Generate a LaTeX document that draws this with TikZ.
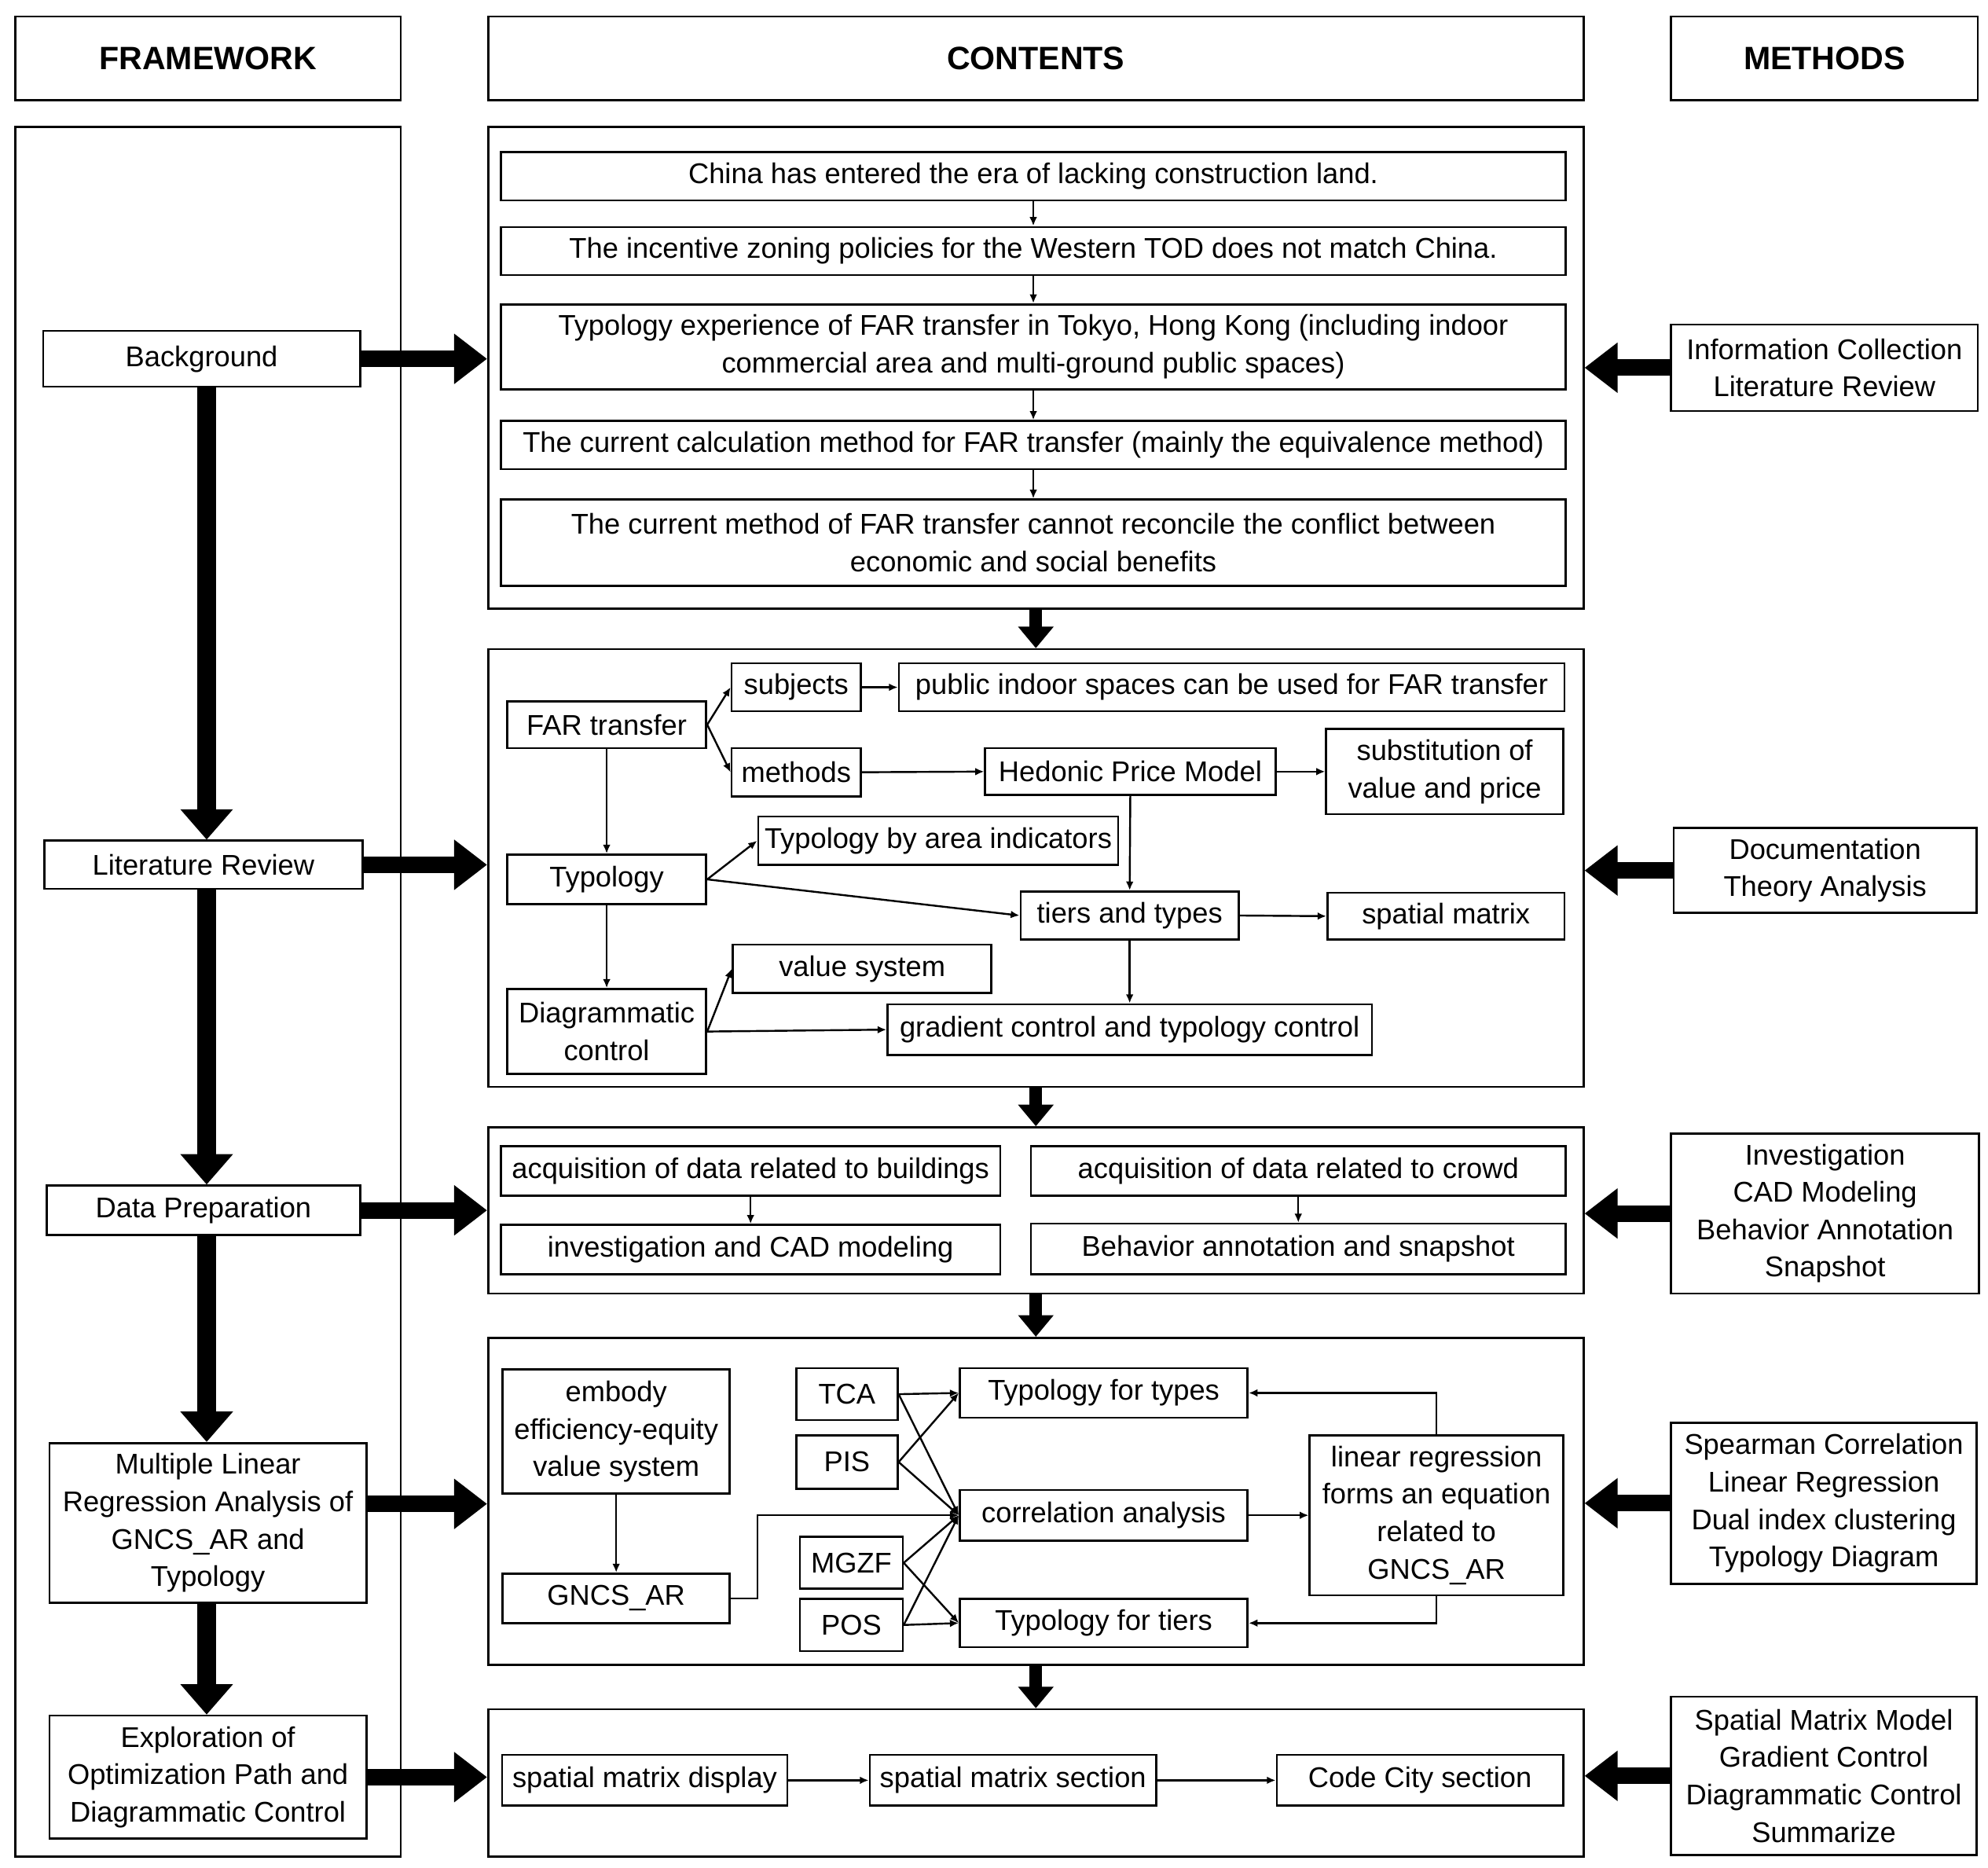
\documentclass[tikz,border=0pt]{standalone}
\usepackage{fontspec}
\setmainfont{Liberation Sans}
\usetikzlibrary{arrows.meta,calc}
\newcommand{\myfs}{\fontsize{22.5}{29.5}\selectfont}
\newcommand{\myhf}{\fontsize{25.5}{30}\selectfont\bfseries}
\begin{document}
\begin{tikzpicture}[x=1pt,y=-1pt,
  box/.style 2 args={draw=black, line width=1.6pt, minimum width=#1, minimum height=#2, inner sep=1pt, align=center, font=\myfs},
  hbox/.style 2 args={draw=black, line width=1.6pt, minimum width=#1, minimum height=#2, inner sep=1pt, align=center, font=\myhf},
  frame/.style 2 args={draw=black, line width=1.6pt, minimum width=#1, minimum height=#2, inner sep=0pt},
  bigv/.style={line width=15pt, -{Triangle[length=24pt,width=40pt]}},
  bigh/.style={line width=13pt, -{Triangle[length=26pt,width=38pt]}},
  midv/.style={line width=10pt, -{Triangle[length=17pt,width=27pt]}},
  conn/.style={line width=1.5pt, -{Latex[length=7pt,width=6pt]}}
]
\useasboundingbox (0,0) rectangle (1568,1472.6);

% headers
\node[hbox={304pt}{66pt}] (hf) at (164,46) {FRAMEWORK};
\node[hbox={864pt}{66pt}] (hc) at (817,46) {CONTENTS};
\node[hbox={242pt}{66pt}] (hm) at (1439,46) {METHODS};

% framework column
\node[frame={304pt}{1364pt}] (fw) at (164,782) {};
\node[box={250pt}{44pt}] (bg) at (159,283) {Background};
\node[box={251pt}{38pt}] (lr) at (160.5,682) {Literature Review};
\node[box={247pt}{39pt}] (dp) at (160.5,954.5) {Data Preparation};
\node[box={250pt}{126pt}] (ml) at (164,1201) {Multiple Linear\\Regression Analysis of\\GNCS\_AR and\\Typology};
\node[box={250pt}{97pt}] (ex) at (164,1401.5) {Exploration of\\Optimization Path and\\Diagrammatic Control};

% contents frames
\node[frame={864pt}{380pt}] (c1) at (817,290) {};
\node[frame={864pt}{345pt}] (c2) at (817,684.5) {};
\node[frame={864pt}{131pt}] (c3) at (817,954.5) {};
\node[frame={864pt}{258pt}] (c4) at (817,1184) {};
\node[frame={864pt}{116pt}] (c5) at (817,1406) {};

% methods
\node[box={242pt}{68pt}] (m1) at (1439,290) {Information Collection\\Literature Review};
\node[box={239pt}{67pt}] (m2) at (1439.5,686.5) {Documentation\\Theory Analysis};
\node[box={243pt}{126pt}] (m3) at (1439.5,957) {Investigation\\CAD Modeling\\Behavior Annotation\\Snapshot};
\node[box={241pt}{127pt}] (m4) at (1438.5,1185.5) {Spearman Correlation\\Linear Regression\\Dual index clustering\\Typology Diagram};
\node[box={241pt}{125pt}] (m5) at (1438.5,1400.5) {Spatial Matrix Model\\Gradient Control\\Diagrammatic Control\\Summarize};

% box 1
\node[box={840pt}{38pt}] (a1) at (815,139) {China has entered the era of lacking construction land.};
\node[box={840pt}{38pt}] (a2) at (815,198) {The incentive zoning policies for the Western TOD does not match China.};
\node[box={840pt}{67pt}] (a3) at (815,273.5) {Typology experience of FAR transfer in Tokyo, Hong Kong (including indoor\\commercial area and multi-ground public spaces)};
\node[box={840pt}{38pt}] (a4) at (815,351) {The current calculation method for FAR transfer (mainly the equivalence method)};
\node[box={840pt}{68pt}] (a5) at (815,428) {The current method of FAR transfer cannot reconcile the conflict between\\economic and social benefits};
\draw[conn] (a1.south) -- (a2.north);
\draw[conn] (a2.south) -- (a3.north);
\draw[conn] (a3.south) -- (a4.north);
\draw[conn] (a4.south) -- (a5.north);

% box 2
\node[box={157pt}{37pt}] (far) at (478.5,571.5) {FAR transfer};
\node[box={102pt}{38pt}] (sub) at (628,542) {subjects};
\node[box={525pt}{38pt}] (pub) at (971.5,542) {public indoor spaces can be used for FAR transfer};
\node[box={102pt}{38pt}] (met) at (628,609) {methods};
\node[box={229pt}{37pt}] (hed) at (891.5,608.5) {Hedonic Price Model};
\node[box={187pt}{67pt}] (sbs) at (1139.5,608.5) {substitution of\\value and price};
\node[box={284pt}{38pt}] (tba) at (740,663) {Typology by area indicators};
\node[box={157pt}{39pt}] (typ) at (478.5,693.5) {Typology};
\node[box={172pt}{38pt}] (tat) at (891,722) {tiers and types};
\node[box={187pt}{37pt}] (spm) at (1140.5,722.5) {spatial matrix};
\node[box={204pt}{38pt}] (vsy) at (680,764) {value system};
\node[box={157pt}{67pt}] (dgc) at (478.5,813.5) {Diagrammatic\\control};
\node[box={382pt}{40pt}] (gct) at (891,812) {gradient control and typology control};
\draw[conn] (far.east) -- (sub.west);
\draw[conn] (far.east) -- (met.west);
\draw[conn] (sub.east) -- (pub.west);
\draw[conn] (met.east) -- (hed.west);
\draw[conn] (hed.east) -- (sbs.west);
\draw[conn] (far.south) -- (typ.north);
\draw[conn] (hed.south) -- (tat.north);
\draw[conn] (typ.east) -- (tba.west);
\draw[conn] (typ.east) -- (tat.west);
\draw[conn] (tat.east) -- (spm.west);
\draw[conn] (typ.south) -- (dgc.north);
\draw[conn] (dgc.east) -- (vsy.west);
\draw[conn] (dgc.east) -- (gct.west);
\draw[conn] (tat.south) -- (gct.north);

% box 3
\node[box={394pt}{39pt}] (d1) at (592,923.5) {acquisition of data related to buildings};
\node[box={422pt}{39pt}] (d2) at (1024,923.5) {acquisition of data related to crowd};
\node[box={394pt}{39pt}] (d3) at (592,985.5) {investigation and CAD modeling};
\node[box={422pt}{40pt}] (d4) at (1024,985) {Behavior annotation and snapshot};
\draw[conn] (d1.south) -- (d3.north);
\draw[conn] (d2.south) -- (d4.north);

% box 4
\node[box={179pt}{98pt}] (emb) at (486,1129) {embody\\efficiency-equity\\value system};
\node[box={179pt}{39pt}] (gnc) at (486,1260.5) {GNCS\_AR};
\node[box={80pt}{41pt}] (tca) at (668,1099.5) {TCA};
\node[box={80pt}{42pt}] (pis) at (668,1153) {PIS};
\node[box={81pt}{41pt}] (mgz) at (671.5,1232.5) {MGZF};
\node[box={81pt}{41pt}] (pos) at (671.5,1281.5) {POS};
\node[box={227pt}{39pt}] (tft) at (870.5,1098.5) {Typology for types};
\node[box={227pt}{40pt}] (cor) at (870.5,1195) {correlation analysis};
\node[box={227pt}{38pt}] (tfi) at (870.5,1280) {Typology for tiers};
\node[box={200pt}{126pt}] (lin) at (1133,1195) {linear regression\\forms an equation\\related to\\GNCS\_AR};
\draw[conn] (emb.south) -- (gnc.north);
\draw[conn] (gnc.east) -- ++(21,0) |- (cor.west);
\draw[conn] (tca.east) -- (tft.west);
\draw[conn] (tca.east) -- (cor.west);
\draw[conn] (pis.east) -- (tft.west);
\draw[conn] (pis.east) -- (cor.west);
\draw[conn] (mgz.east) -- (cor.west);
\draw[conn] (mgz.east) -- (tfi.west);
\draw[conn] (pos.east) -- (cor.west);
\draw[conn] (pos.east) -- (tfi.west);
\draw[conn] (cor.east) -- (lin.west);
\draw[conn] (lin.north) |- (tft.east);
\draw[conn] (lin.south) |- (tfi.east);

% box 5
\node[box={225pt}{40pt}] (s1) at (508.5,1404) {spatial matrix display};
\node[box={226pt}{40pt}] (s2) at (799,1404) {spatial matrix section};
\node[box={226pt}{40pt}] (s3) at (1120,1404) {Code City section};
\draw[conn] (s1.east) -- (s2.west);
\draw[conn] (s2.east) -- (s3.west);

% thick arrows: framework column
\draw[bigv] (bg.south -| 163,0) -- (lr.north -| 163,0);
\draw[bigv] (lr.south -| 163,0) -- (dp.north -| 163,0);
\draw[bigv] (dp.south -| 163,0) -- (ml.north -| 163,0);
\draw[bigv] (ml.south -| 163,0) -- (ex.north -| 163,0);

% thick arrows: framework to contents
\draw[bigh] (bg.east) -- (bg.east -| c1.west);
\draw[bigh] (lr.east) -- (lr.east -| c2.west);
\draw[bigh] (dp.east) -- (dp.east -| c3.west);
\draw[bigh] ($(ml.east)+(0,-15)$) -- ($(ml.east -| c4.west)+(0,-15)$);
\draw[bigh] (ex.east) -- (ex.east -| c5.west);

% thick arrows: methods to contents
\draw[bigh] (m1.west) -- (m1.west -| c1.east);
\draw[bigh] (m2.west) -- (m2.west -| c2.east);
\draw[bigh] (m3.west) -- (m3.west -| c3.east);
\draw[bigh] (m4.west) -- (m4.west -| c4.east);
\draw[bigh] (m5.west) -- (m5.west -| c5.east);

% thick arrows between contents boxes
\draw[midv] (c1.south) -- (c2.north);
\draw[midv] (c2.south) -- (c3.north);
\draw[midv] (c3.south) -- (c4.north);
\draw[midv] (c4.south) -- (c5.north);
\end{tikzpicture}
\end{document}
